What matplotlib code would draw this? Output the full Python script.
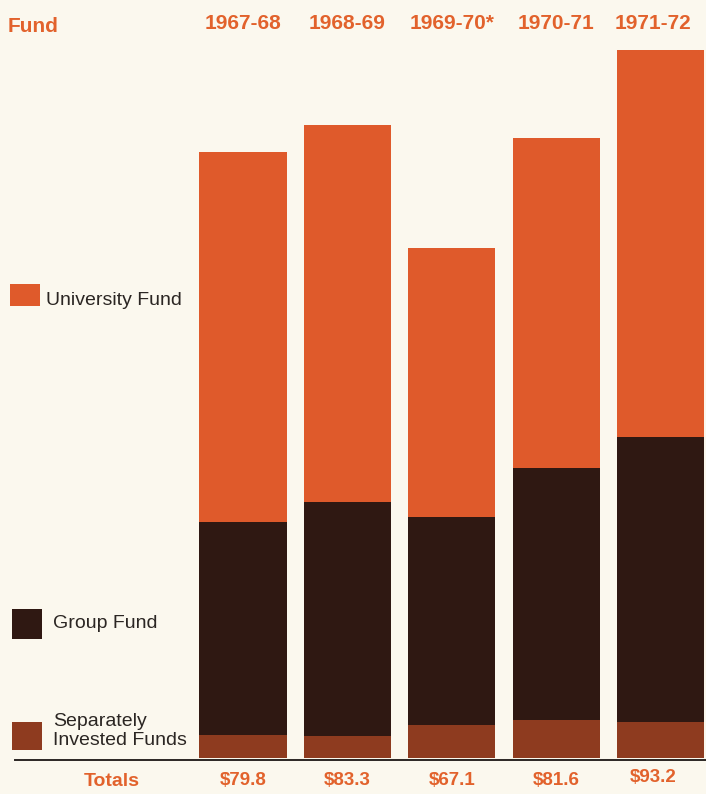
import numpy as np
import matplotlib
matplotlib.use("Agg")
import matplotlib.pyplot as plt
from matplotlib.patches import Rectangle

plt.rcParams['font.family'] = ['Liberation Sans', 'DejaVu Sans']

# data (millions of dollars)
years = ["1967-68", "1968-69", "1969-70*", "1970-71", "1971-72"]
separate = [3.0, 2.9, 4.3, 5.0, 4.7]
group = [28.0, 30.8, 27.4, 33.2, 37.6]
totals = [79.8, 83.3, 67.1, 81.6, 93.2]
university = [t - s - g for t, s, g in zip(totals, separate, group)]
total_labels = ["$79.8", "$83.3", "$67.1", "$81.6", "$93.2"]

# colours
bg = "#FBF8EE"
c_univ = "#DF5A2B"
c_group = "#2F1812"
c_sep = "#8E3B1F"
c_text = "#E2622C"
c_dark = "#2B2623"

W, H = 706, 794
fig = plt.figure(figsize=(W / 100, H / 100), dpi=100)
fig.patch.set_facecolor(bg)

# axes covers whole figure; limits chosen so bars land where the original has them
step = 104.4          # px between bar centres
x0 = 243              # px of first bar centre
base = 758            # px of baseline from top
scale = 7.6           # px per $1M
ax = fig.add_axes([0, 0, 1, 1])
ax.set_facecolor(bg)
ax.set_xlim(-x0 / step, (W - x0) / step)
ax.set_ylim(-(H - base) / scale, base / scale)
ax.set_axis_off()

x = np.arange(len(years))
bw = 0.835
ax.bar(x, separate, width=bw, color=c_sep, linewidth=0)
ax.bar(x, group, width=bw, bottom=separate, color=c_group, linewidth=0)
ax.bar(x, university, width=bw, bottom=np.add(separate, group), color=c_univ, linewidth=0)

# baseline rule
ax.axhline(-0.3, xmin=15 / W, xmax=1, color=c_dark, lw=1.4)

# year headers and totals
for i, (yr, tl) in enumerate(zip(years, total_labels)):
    xi = min(i, 3.93)
    ax.text(xi, 96.6, yr, ha="center", va="center", fontsize=15,
            fontweight="bold", color=c_text)
    ty = -2.5 if i == 4 else -3.0
    ax.text(xi, ty, tl, ha="center", va="center", fontsize=13.5,
            fontweight="bold", color=c_text)


def fx(px):
    return px / W


def fy(py):
    return 1 - py / H


fig.text(fx(8), fy(27), "Fund", ha="left", va="center", fontsize=15,
         fontweight="bold", color=c_text)
fig.text(fx(112), fy(782), "Totals", ha="center", va="center", fontsize=14,
         fontweight="bold", color=c_text)

# legend swatches
legend = [
    (10, 284, 30, 22, c_univ, "University Fund", 300, 46),
    (12, 609, 30, 30, c_group, "Group Fund", 623, 53),
    (12, 722, 30, 28, c_sep, "Separately\nInvested Funds", 731, 53),
]
for lx, ly, lw, lh, col, txt, ty, tx in legend:
    fig.patches.append(Rectangle((fx(lx), fy(ly + lh)), lw / W, lh / H,
                                 transform=fig.transFigure, color=col, lw=0))
    fig.text(fx(tx), fy(ty), txt, ha="left", va="center", fontsize=14,
             color=c_dark, linespacing=1.2)

fig.savefig("out.png", dpi=100, facecolor=bg)
